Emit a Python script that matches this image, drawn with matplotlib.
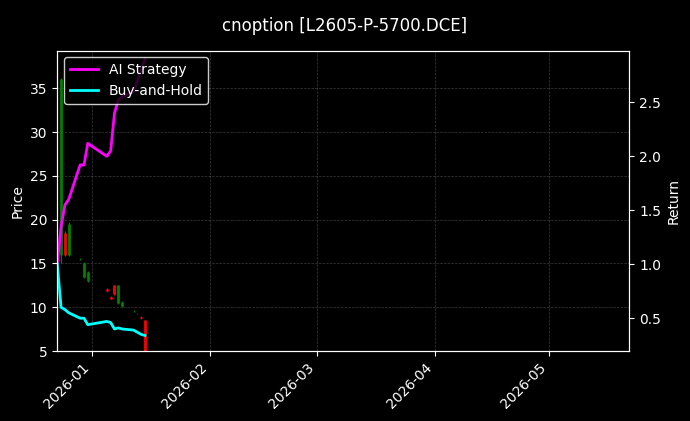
import matplotlib
matplotlib.use("Agg")
import matplotlib.pyplot as plt
import matplotlib.dates as mdates
import pandas as pd

plt.style.use("dark_background")

dates = pd.to_datetime(["2025-12-23", "2025-12-24", "2025-12-25", "2025-12-26", "2025-12-29",
                        "2025-12-30", "2025-12-31", "2026-01-05", "2026-01-06", "2026-01-07",
                        "2026-01-08", "2026-01-09", "2026-01-12", "2026-01-13", "2026-01-14",
                        "2026-01-15"])
opens = [16.0, 18.5, 16.0, 15.5, 13.5, 13.0, 12.1, 11.2, 12.5, 10.5, 10.1, 9.6, 9.3, 8.9, 8.5]
closes = [36.0, 16.0, 19.5, 15.5, 15.0, 14.0, 11.9, 11.0, 11.5, 12.5, 10.6, 9.6, 9.3, 8.8, 5.0]
highs = [36.2, 18.7, 19.7, 15.6, 15.2, 14.1, 12.2, 11.3, 12.6, 12.6, 10.7, 9.7, 9.4, 9.0, 8.6]
lows = [15.0, 15.8, 15.8, 15.4, 13.3, 12.9, 11.8, 10.9, 11.4, 10.4, 10.0, 9.5, 9.2, 8.7, 5.0]
ai_ret = [1.0, 1.35, 1.55, 1.6, 1.92, 1.92, 2.12, 2.0, 2.05, 2.4, 2.52, 2.55, 2.6, 2.7, 2.8, 2.9]
bh_ret = [1.0, 0.60, 0.58, 0.55, 0.50, 0.50, 0.44, 0.47, 0.46, 0.40, 0.41, 0.40, 0.39, 0.37, 0.35, 0.34]

fig, ax = plt.subplots(figsize=(6.9, 4.21), dpi=100)
fig.patch.set_facecolor("black")
ax.set_facecolor("black")

for d, o, c, h, l in zip(dates[1:], opens, closes, highs, lows):
    col = "green" if c >= o else "red"
    ax.vlines(d, l, h, color=col, linewidth=0.8)
    ax.vlines(d, min(o, c), max(o, c), color=col, linewidth=2)

ax.set_ylabel("Price")
ax.set_ylim(5, 39.3)
ax.set_xlim(pd.Timestamp("2025-12-23"), pd.Timestamp("2026-05-22"))
ax.grid(True, color="gray", linestyle="--", linewidth=0.5, alpha=0.45)
ax.xaxis.set_major_locator(mdates.MonthLocator())
ax.xaxis.set_major_formatter(mdates.DateFormatter("%Y-%m"))
plt.setp(ax.get_xticklabels(), rotation=45, ha="right")

ax2 = ax.twinx()
ax2.plot(dates, ai_ret, color="magenta", linewidth=2, label="AI Strategy")
ax2.plot(dates, bh_ret, color="cyan", linewidth=2, label="Buy-and-Hold")
ax2.set_ylabel("Return")
ax2.set_ylim(0.195, 2.98)
ax2.legend(loc="upper left", facecolor="black", edgecolor="white")

fig.suptitle("cnoption [L2605-P-5700.DCE]", y=0.96)
fig.subplots_adjust(left=0.083, right=0.912, top=0.88, bottom=0.166)
fig.savefig("out.png", dpi=100, facecolor="black")
